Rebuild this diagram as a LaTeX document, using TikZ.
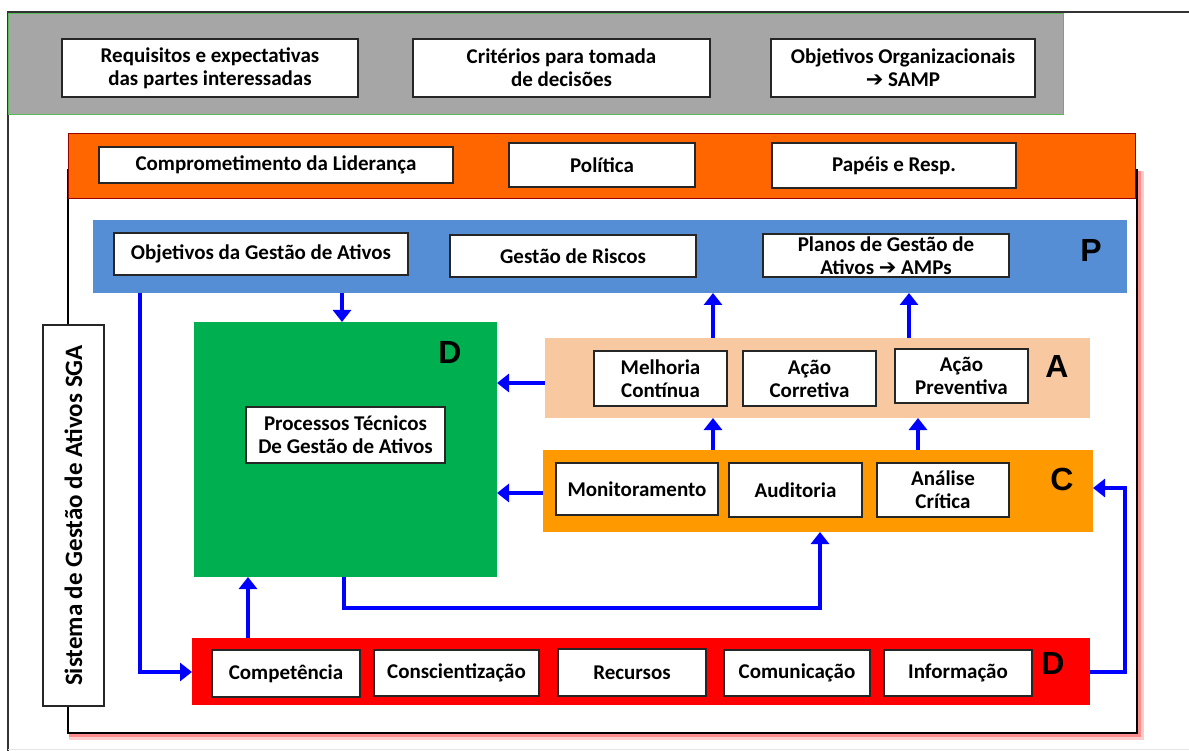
\documentclass[tikz,border=0pt]{standalone}
\usepackage{fontspec}
\setmainfont{Carlito}
\newfontfamily\arrowfont{DejaVu Sans}
\newfontfamily\letterfont{Liberation Sans}
\usetikzlibrary{arrows.meta}
\definecolor{bgray}{HTML}{A6A6A6}
\definecolor{borange}{HTML}{FF6600}
\definecolor{bblue}{HTML}{558ED5}
\definecolor{bgreen}{HTML}{00B050}
\definecolor{bpeach}{HTML}{F8C9A1}
\definecolor{bamber}{HTML}{FF9900}
\definecolor{bred}{HTML}{FF0000}
\definecolor{gborder}{HTML}{5CB85C}
\newcommand{\rarr}{{\arrowfont\bfseries ➔}}
\tikzset{
  x=1pt,y=-1pt,
  band/.style={inner sep=0pt,outer sep=0pt},
  wbox/.style={draw=black!85,line width=1.3pt,fill=white,inner sep=0pt,align=center,
    font=\bfseries\fontsize{21}{23}\selectfont},
  bigletter/.style={font=\letterfont\bfseries\fontsize{32}{32}\selectfont,inner sep=0pt},
  arr/.style={draw=blue,line width=3.2pt,-{Triangle[width=18pt,length=12pt]}},
}
\begin{document}
\begin{tikzpicture}
\useasboundingbox (0,0) rectangle (1189,751);
% outer page frame
\coordinate (pgA) at (8,12);
\coordinate (pgB) at (1189,12);
\coordinate (pgC) at (8,751);
\coordinate (pgD) at (1189,749);
\draw[black!80,line width=1.5pt] (pgB) -- (pgA) -- (pgC);
\draw[black!10,line width=1pt] (pgC |- pgD) -- (pgD);
% gray band
\node[band,fill=bgray,draw=gborder,line width=1pt,minimum width=1055,minimum height=101] (gray) at (535.5,64.5) {};
\node[wbox,minimum width=296,minimum height=58] (req) at (210,68) {Requisitos e expectativas\\das partes interessadas};
\node[wbox,minimum width=297,minimum height=58] (crit) at (561.5,68) {Critérios para tomada\\de decisões};
\node[wbox,minimum width=264,minimum height=58] (obj) at (903,68) {Objetivos Organizacionais\\\rarr{} SAMP};
% inner frame with red shadow
\coordinate (frA) at (68,170);
\coordinate (frB) at (1137,733);
\draw[red!20,line width=6pt] ([shift={(4,4)}]frA) rectangle ([shift={(4,4)}]frB);
\draw[red!45,line width=3pt] ([shift={(2.5,2.5)}]frA) rectangle ([shift={(2.5,2.5)}]frB);
\draw[black,line width=1.6pt,fill=white] (frA) rectangle (frB);
% orange band
\node[band,fill=borange,draw=red!60!black,line width=0.8pt,minimum width=1067,minimum height=65] (lead) at (601.5,165.5) {};
\node[wbox,minimum width=354,minimum height=36] (lid) at (276,165) {Comprometimento da Liderança};
\node[wbox,minimum width=186,minimum height=44] (pol) at (602,165) {Política};
\node[wbox,minimum width=244,minimum height=45] (pap) at (894,165.5) {Papéis e Resp.};
% blue band P
\node[band,fill=bblue,minimum width=1034,minimum height=73] (blue) at (610,256.5) {};
\node[bigletter] (P) at (1091,250) {P};
\node[wbox,minimum width=294,minimum height=42] (oga) at (261,254) {Objetivos da Gestão de Ativos};
\node[wbox,minimum width=246,minimum height=42] (ris) at (573,256) {Gestão de Riscos};
\node[wbox,minimum width=246,minimum height=43] (pla) at (886,255.5) {Planos de Gestão de\\Ativos \rarr{} AMPs};
% green D
\node[band,fill=bgreen,minimum width=303,minimum height=255] (green) at (345.5,449.5) {};
\node[bigletter] (D1) at (450,352) {D};
\node[wbox,minimum width=199,minimum height=56] (ptg) at (345.5,435) {Processos Técnicos\\De Gestão de Ativos};
% peach A
\node[band,fill=bpeach,minimum width=545,minimum height=80] (Aband) at (817.5,378) {};
\node[bigletter] (A) at (1057,366) {A};
\node[wbox,minimum width=133,minimum height=55] (mel) at (660.5,378.5) {Melhoria\\Contínua};
\node[wbox,minimum width=133,minimum height=55] (cor) at (809.5,378.5) {Ação\\Corretiva};
\node[wbox,minimum width=133,minimum height=54] (pre) at (961.5,376) {Ação\\Preventiva};
% amber C
\node[band,fill=bamber,minimum width=550,minimum height=82] (Cband) at (818,491) {};
\node[bigletter] (C) at (1062,479) {C};
\node[wbox,minimum width=162,minimum height=52] (mon) at (637,489) {Monitoramento};
\node[wbox,minimum width=133,minimum height=54] (aud) at (795.5,490) {Auditoria};
\node[wbox,minimum width=132,minimum height=54] (ana) at (943,490) {Análise\\Crítica};
% red D
\node[band,fill=bred,minimum width=898,minimum height=67] (Dband) at (641,671.5) {};
\node[bigletter] (D2) at (1053,663) {D};
\node[wbox,minimum width=148,minimum height=47] (com) at (286,673.5) {Competência};
\node[wbox,minimum width=165,minimum height=46] (con) at (456.5,673) {Conscientização};
\node[wbox,minimum width=148,minimum height=47] (rec) at (632,672.5) {Recursos};
\node[wbox,minimum width=146,minimum height=46] (comu) at (797,673) {Comunicação};
\node[wbox,minimum width=148,minimum height=46] (inf) at (958,673) {Informação};
% vertical label
\node[draw=black!85,line width=1.3pt,fill=white,inner sep=0pt,minimum width=61,minimum height=381] (sga) at (73.5,515.5) {};
\node[rotate=90,font=\bfseries\fontsize{25}{28}\selectfont,inner sep=0pt] (sgat) at (sga.center) {Sistema de Gestão de Ativos SGA};
% arrow guide coordinates
\coordinate (x140) at (140,0);
\coordinate (x713) at (713,0);
\coordinate (x909) at (909,0);
\coordinate (x918) at (918,0);
\coordinate (x248) at (248,0);
\coordinate (x342) at (342,0);
\coordinate (x344) at (344,0);
\coordinate (x820) at (820,0);
\coordinate (x1125) at (1125,0);
\coordinate (y383) at (0,383);
\coordinate (y493) at (0,493);
\coordinate (y608) at (0,608);
\coordinate (y488) at (0,488);
\coordinate (y672) at (0,672);
% arrows
\draw[arr] (blue.south -| x342) -- (green.north -| x342);
\draw[arr] (blue.south -| x140) |- (Dband.west |- y672);
\draw[arr] (Aband.north -| x713) -- (blue.south -| x713);
\draw[arr] (Aband.north -| x909) -- (blue.south -| x909);
\draw[arr] (Cband.north -| x713) -- (Aband.south -| x713);
\draw[arr] (Cband.north -| x918) -- (Aband.south -| x918);
\draw[arr] (Aband.west |- y383) -- (green.east |- y383);
\draw[arr] (Cband.west |- y493) -- (green.east |- y493);
\draw[arr] (Dband.north -| x248) -- (green.south -| x248);
\draw[arr] (green.south -| x344) -- (x344 |- y608) -| (Cband.south -| x820);
\draw[arr] (Dband.east |- y672) -- (x1125 |- y672) -- (x1125 |- y488) -- (Cband.east |- y488);
\end{tikzpicture}
\end{document}
